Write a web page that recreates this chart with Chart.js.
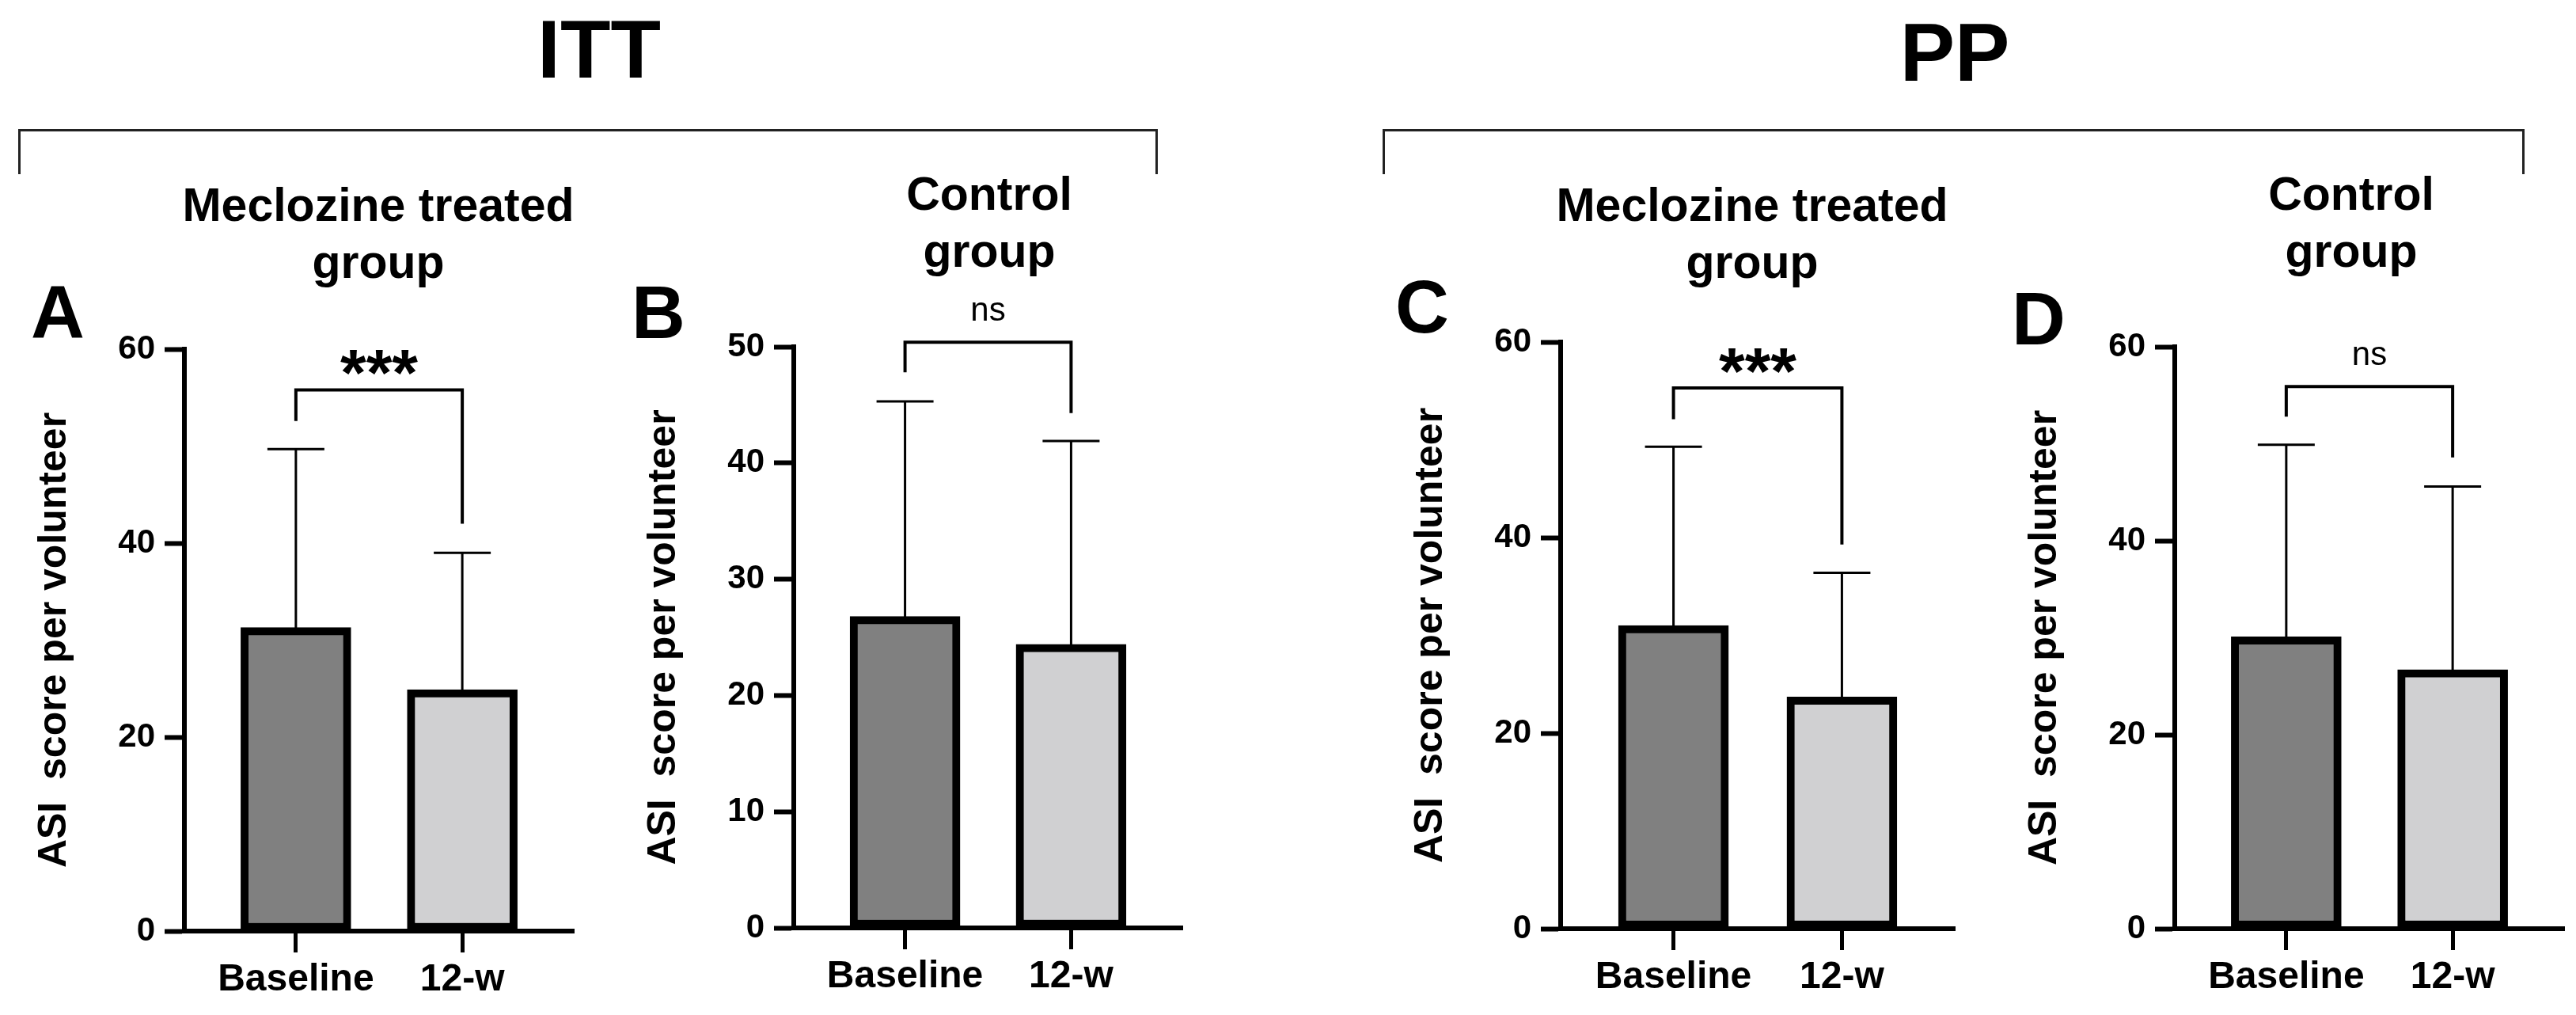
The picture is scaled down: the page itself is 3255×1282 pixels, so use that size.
<!DOCTYPE html>
<html>
<head>
<meta charset="utf-8">
<title>ASI score per volunteer - ITT and PP</title>
<script src="https://cdn.jsdelivr.net/npm/chart.js@4.4.1/dist/chart.umd.min.js"></script>
<style>
  html, body { margin: 0; padding: 0; background: #fff; }
  #page {
    position: relative; width: 3255px; height: 1282px; overflow: hidden;
    font-family: 'Liberation Sans', Arial, sans-serif; color: #000;
  }
  .txt { position: absolute; font-weight: bold; text-align: center; white-space: nowrap; z-index: 2; }
  .big { font-size: 104px; line-height: 1; width: 400px; }
  .sub { font-size: 59px; line-height: 72px; width: 700px; }
  .letter { font-size: 94px; line-height: 1; width: 120px; }
  .bracket {
    position: absolute; border: 3px solid #222; border-bottom: none;
    box-sizing: border-box; height: 57px; top: 163px;
  }
  canvas { position: absolute; z-index: 1; }
</style>
</head>
<body>
<div id="page">
  <div class="txt big" style="left:557px; top:10px;">ITT</div>
  <div class="txt big" style="left:2270px; top:14px;">PP</div>

  <div class="bracket" style="left:23px; width:1440px;"></div>
  <div class="bracket" style="left:1747px; width:1443px;"></div>

  <div class="txt sub" style="left:128px; top:223px;">Meclozine treated<br>group</div>
  <div class="txt sub" style="left:900px; top:209px;">Control<br>group</div>
  <div class="txt sub" style="left:1864px; top:223px;">Meclozine treated<br>group</div>
  <div class="txt sub" style="left:2621px; top:209px;">Control<br>group</div>

  <div class="txt letter" style="left:13px; top:348px;">A</div>
  <div class="txt letter" style="left:772px; top:348px;">B</div>
  <div class="txt letter" style="left:1737px; top:341px;">C</div>
  <div class="txt letter" style="left:2516px; top:356px;">D</div>

  <canvas id="chartA"></canvas>
  <canvas id="chartB"></canvas>
  <canvas id="chartC"></canvas>
  <canvas id="chartD"></canvas>
</div>

<script>
// ---- data ----
const categories = ['Baseline', '12-w'];

const ittMeclozineMean = [31.3, 24.9];
const ittMeclozineSD   = [18.4, 14.1];
const ittControlMean   = [26.8, 24.4];
const ittControlSD     = [18.5, 17.5];
const ppMeclozineMean  = [31.0, 23.7];
const ppMeclozineSD    = [18.3, 12.7];
const ppControlMean    = [30.1, 26.7];
const ppControlSD      = [19.8, 18.9];

// significance bracket: [bar height, left leg end, right leg end]
const ittMeclozineSig = [55.8, 52.6, 42.0];
const ittControlSig   = [50.4, 47.8, 44.3];
const ppMeclozineSig  = [55.3, 52.1, 39.3];
const ppControlSig    = [55.9, 52.8, 48.6];
const sigLabels = ['***', 'ns', '***', 'ns'];

const yTicks60 = [0, 20, 40, 60];
const yTicks50 = [0, 10, 20, 30, 40, 50];

const yTitle = 'ASI  score per volunteer';
const barColors = ['#808080', '#d0d0d2'];

// ---- layout (pixels on the page) ----
const Y_AXIS_W = 200;   // room for tick labels + rotated title
const X_AXIS_H = 110;   // room for category labels
const PAD_TOP = 110;    // room for brackets / stars above the plot
const PAD_RIGHT = 12;

Chart.defaults.font.family = "'Liberation Sans', Arial, sans-serif";
Chart.defaults.color = '#000';

// error bars (upper SD only) and the comparison bracket
function annotations(mean, sd, sig, label) {
  return {
    id: 'errAndSig',
    afterDatasetsDraw(chart) {
      const { ctx } = chart;
      const x = chart.scales.x, y = chart.scales.y;
      ctx.save();
      ctx.strokeStyle = '#000';
      ctx.lineWidth = 3;
      mean.forEach((m, i) => {
        const px = x.getPixelForValue(i);
        const yTop = y.getPixelForValue(m + sd[i]);
        ctx.beginPath();
        ctx.moveTo(px, y.getPixelForValue(m) + 5);
        ctx.lineTo(px, yTop);
        ctx.moveTo(px - 36, yTop);
        ctx.lineTo(px + 36, yTop);
        ctx.stroke();
      });

      const x0 = x.getPixelForValue(0), x1 = x.getPixelForValue(1);
      const yb = y.getPixelForValue(sig[0]);
      ctx.lineWidth = 4;
      ctx.lineJoin = 'miter';
      ctx.beginPath();
      ctx.moveTo(x0, y.getPixelForValue(sig[1]));
      ctx.lineTo(x0, yb);
      ctx.lineTo(x1, yb);
      ctx.lineTo(x1, y.getPixelForValue(sig[2]));
      ctx.stroke();

      ctx.fillStyle = '#000';
      ctx.textAlign = 'center';
      ctx.textBaseline = 'alphabetic';
      if (label === 'ns') {
        ctx.font = "42px 'Liberation Sans', Arial, sans-serif";
        ctx.fillText(label, (x0 + x1) / 2, yb - 27);
      } else {
        ctx.font = "bold 84px 'Liberation Sans', Arial, sans-serif";
        ctx.fillText(label, (x0 + x1) / 2, yb + 8);
      }
      ctx.restore();
    }
  };
}

function makePanel(id, axisX, topPx, zeroPx, plotW, yMax, yTicks, mean, sd, sig, label) {
  const canvas = document.getElementById(id);
  const w = Y_AXIS_W + plotW + PAD_RIGHT;
  const h = PAD_TOP + (zeroPx - topPx) + X_AXIS_H;
  canvas.width = w;
  canvas.height = h;
  canvas.style.width = w + 'px';
  canvas.style.height = h + 'px';
  canvas.style.left = (axisX - Y_AXIS_W) + 'px';
  canvas.style.top = (topPx - PAD_TOP) + 'px';

  return new Chart(canvas.getContext('2d'), {
    type: 'bar',
    data: {
      datasets: [{
        data: mean.map((v, i) => ({ x: i, y: v })),
        backgroundColor: barColors,
        borderColor: '#000',
        borderWidth: 10,
        borderSkipped: false,
        barThickness: 139
      }]
    },
    options: {
      responsive: false,
      animation: false,
      devicePixelRatio: 1,
      layout: { padding: { top: PAD_TOP, right: PAD_RIGHT, bottom: 0, left: 0 } },
      plugins: { legend: { display: false }, tooltip: { enabled: false } },
      scales: {
        x: {
          type: 'linear',
          min: -0.67,
          max: 1.67,
          offset: false,
          afterBuildTicks: (scale) => { scale.ticks = categories.map((c, i) => ({ value: i })); },
          afterFit: (scale) => { scale.height = X_AXIS_H; },
          ticks: {
            callback: (value) => categories[value],
            font: { size: 48, weight: 'bold' },
            padding: 6,
            maxRotation: 0,
            autoSkip: false
          },
          grid: { offset: false, drawOnChartArea: false, drawTicks: true, tickLength: 27, tickWidth: 5, tickColor: '#000' },
          border: { display: true, width: 6, color: '#000' }
        },
        y: {
          min: 0,
          max: yMax,
          afterBuildTicks: (scale) => { scale.ticks = yTicks.map(v => ({ value: v })); },
          afterFit: (scale) => { scale.width = Y_AXIS_W; },
          ticks: { font: { size: 42, weight: 'bold' }, padding: 12 },
          grid: { drawOnChartArea: false, drawTicks: true, tickLength: 25, tickWidth: 6, tickColor: '#000' },
          border: { display: true, width: 6, color: '#000' },
          title: {
            display: true,
            text: yTitle,
            font: { size: 50, weight: 'bold' },
            padding: { top: 6, bottom: 0 }
          }
        }
      }
    },
    plugins: [annotations(mean, sd, sig, label)]
  });
}

makePanel('chartA', 233, 441, 1176, 492, 60, yTicks60, ittMeclozineMean, ittMeclozineSD, ittMeclozineSig, sigLabels[0]);
makePanel('chartB', 1003, 438, 1172, 491, 50, yTicks50, ittControlMean, ittControlSD, ittControlSig, sigLabels[1]);
makePanel('chartC', 1972, 432, 1173, 498, 60, yTicks60, ppMeclozineMean, ppMeclozineSD, ppMeclozineSig, sigLabels[2]);
makePanel('chartD', 2748, 438, 1173, 492, 60, yTicks60, ppControlMean, ppControlSD, ppControlSig, sigLabels[3]);
</script>
</body>
</html>
